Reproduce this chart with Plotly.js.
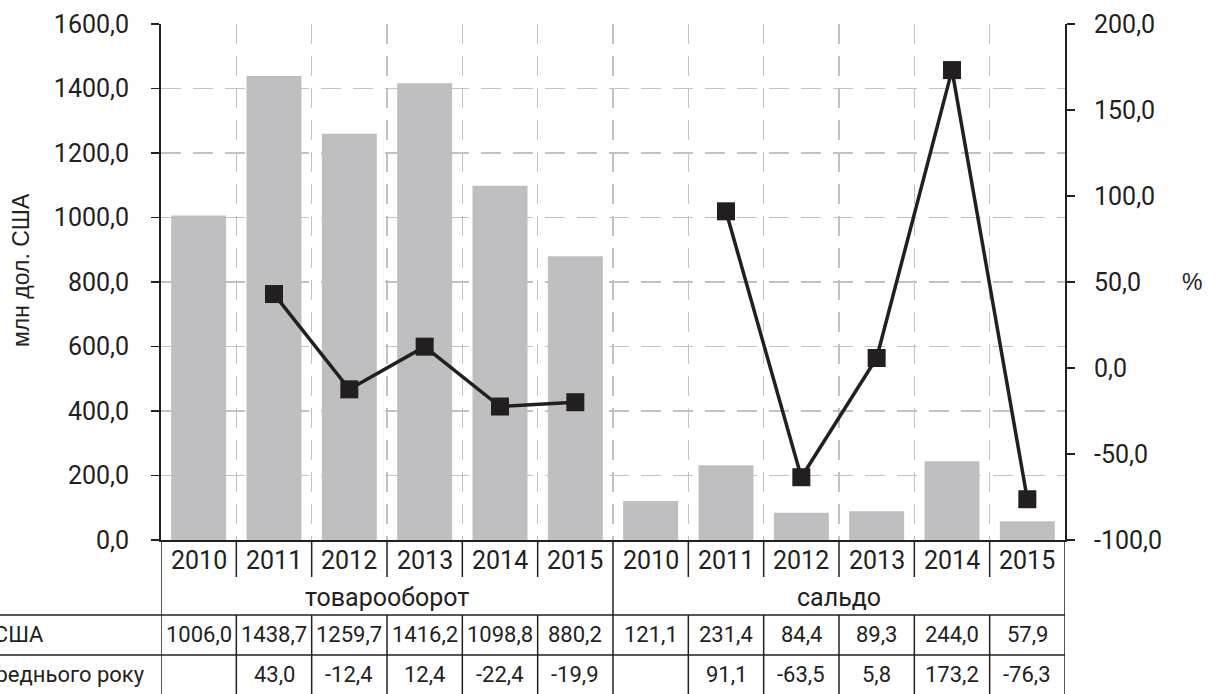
<!DOCTYPE html>
<html>
<head>
<meta charset="utf-8">
<script src="https://cdn.plot.ly/plotly-3.0.1.min.js"></script>
<style>
  html, body { margin: 0; padding: 0; background: #ffffff; }
  #chart { width: 1217px; height: 694px; }
</style>
</head>
<body>
<div id="chart"></div>
<script>
// ---- data ----
const groups = ['товарооборот', 'сальдо'];
const years = ['2010', '2011', '2012', '2013', '2014', '2015'];
const valuesMln = [1006.0, 1438.7, 1259.7, 1416.2, 1098.8, 880.2, 121.1, 231.4, 84.4, 89.3, 244.0, 57.9];
const pctChange = [null, 43.0, -12.4, 12.4, -22.4, -19.9, null, 91.1, -63.5, 5.8, 173.2, -76.3];
const rowLabels = ['млн дол. США', '% до попереднього року'];
const yTitle = 'млн дол. США';
const y2Title = '%';
const y2TickVals = [-100, -50, 0, 50, 100, 150, 200];
const y2TickText = ['-100,0', '-50,0', '0,0', '50,0', '100,0', '150,0', '200,0'];

// ---- layout constants ----
const W = 1217, H = 694;
const M = { l: 161, r: 152, t: 24, b: 154 };
const plotH = H - M.t - M.b;
const plotW = W - M.l - M.r;
const baseY = M.t + plotH;
const py = p => (baseY - p) / plotH;        // pixel row -> paper y
const px = p => (p - M.l) / plotW;          // pixel col -> paper x

const dark = '#231f20';
const keys = [];
const yearOf = [];
groups.forEach(g => years.forEach(y => { keys.push(g + ' ' + y); yearOf.push(y); }));
const fmt = v => (v === null ? '' : v.toFixed(1).replace('.', ','));

const bars = {
  type: 'bar', x: keys, y: valuesMln, yaxis: 'y',
  marker: { color: '#bfbfc1' }, hoverinfo: 'y', showlegend: false
};
const lines = {
  type: 'scatter', mode: 'lines+markers', x: keys, y: pctChange, yaxis: 'y2',
  connectgaps: false,
  line: { color: dark, width: 3.5 },
  marker: { symbol: 'square', size: 18, color: dark },
  showlegend: false
};

// ---- table (below the plot) ----
const shapes = [];
const annotations = [];
const lineStyle = { color: dark, width: 1.5 };
const nCat = keys.length;
const perGroup = years.length;
const rowYearBottom = 577, rowTop3 = 615, rowTop4 = 655, tableBottom = 710;

for (let i = 0; i <= nCat; i++) {
  const b = i - 0.5;
  const isGroupEdge = (i % perGroup === 0);
  if (isGroupEdge) {
    shapes.push({ type: 'line', xref: 'x', yref: 'paper', x0: b, x1: b, y0: py(baseY), y1: py(tableBottom), line: lineStyle });
  } else {
    shapes.push({ type: 'line', xref: 'x', yref: 'paper', x0: b, x1: b, y0: py(baseY), y1: py(rowYearBottom), line: lineStyle });
    shapes.push({ type: 'line', xref: 'x', yref: 'paper', x0: b, x1: b, y0: py(rowTop3), y1: py(tableBottom), line: lineStyle });
  }
}
[rowTop3, rowTop4].forEach(r => {
  shapes.push({ type: 'line', xref: 'paper', yref: 'paper', x0: -0.3, x1: 1, y0: py(r), y1: py(r), line: lineStyle });
});

keys.forEach((k, i) => {
  annotations.push({ xref: 'x', yref: 'paper', x: k, y: py(560), text: yearOf[i], showarrow: false,
    xanchor: 'center', yanchor: 'middle', font: { size: 25, color: dark, family: 'Roboto' } });
  annotations.push({ xref: 'x', yref: 'paper', x: k, y: py(635), text: fmt(valuesMln[i]), showarrow: false,
    xanchor: 'center', yanchor: 'middle', font: { size: 22, color: dark, family: 'Roboto' } });
  annotations.push({ xref: 'x', yref: 'paper', x: k, y: py(674), text: fmt(pctChange[i]), showarrow: false,
    xanchor: 'center', yanchor: 'middle', font: { size: 22, color: dark, family: 'Roboto' } });
});
groups.forEach((g, gi) => {
  annotations.push({ xref: 'x', yref: 'paper', x: gi * perGroup + (perGroup - 1) / 2, y: py(597), text: g, showarrow: false,
    xanchor: 'center', yanchor: 'middle', font: { size: 25, color: dark, family: 'Roboto' } });
});
annotations.push({ xref: 'paper', yref: 'paper', x: px(46), y: py(635), text: rowLabels[0], showarrow: false,
  xanchor: 'right', yanchor: 'middle', font: { size: 22, color: dark, family: 'Roboto' } });
annotations.push({ xref: 'paper', yref: 'paper', x: px(147), y: py(674), text: rowLabels[1], showarrow: false,
  xanchor: 'right', yanchor: 'middle', font: { size: 22, color: dark, family: 'Roboto' } });

// axis titles
annotations.push({ xref: 'paper', yref: 'paper', x: px(21), y: py(270), text: yTitle, showarrow: false, textangle: -90,
  xanchor: 'center', yanchor: 'middle', font: { size: 23, color: dark, family: 'Liberation Sans' } });
annotations.push({ xref: 'paper', yref: 'paper', x: px(1192), y: py(282), text: y2Title, showarrow: false,
  xanchor: 'center', yanchor: 'middle', font: { size: 23, color: dark, family: 'Liberation Sans' } });

const gridDash = '20px,12px';
const gridColor = '#c2c2c2';
const layout = {
  width: W, height: H,
  margin: M,
  paper_bgcolor: '#ffffff', plot_bgcolor: '#ffffff',
  separators: ', ',
  font: { family: 'Roboto', color: dark, size: 25 },
  bargap: 0.27,
  showlegend: false,
  xaxis: {
    type: 'category', categoryorder: 'array', categoryarray: keys,
    showticklabels: false, ticks: '', tickson: 'boundaries',
    showgrid: true, gridcolor: gridColor, gridwidth: 1.5, griddash: gridDash,
    showline: true, linecolor: dark, linewidth: 2, zeroline: false,
    range: [-0.5, nCat - 0.5], fixedrange: true
  },
  yaxis: {
    range: [0, 1600], dtick: 200, tick0: 0, tickformat: '.1f',
    showgrid: true, gridcolor: gridColor, gridwidth: 1.5, griddash: gridDash,
    zeroline: false, showline: true, linecolor: dark, linewidth: 2,
    ticks: 'outside', ticklen: 8, tickwidth: 1.5, tickcolor: dark,
    ticklabelstandoff: 17,
    tickfont: { size: 25, color: dark, family: 'Roboto' }
  },
  yaxis2: {
    overlaying: 'y', side: 'right', anchor: 'x',
    range: [-100, 200], tickmode: 'array', tickvals: y2TickVals, ticktext: y2TickText,
    showgrid: false, zeroline: false, showline: true, linecolor: dark, linewidth: 2,
    ticks: 'outside', ticklen: 8, tickwidth: 1.5, tickcolor: dark,
    ticklabelstandoff: 14,
    tickfont: { size: 25, color: dark, family: 'Roboto' }
  },
  shapes: shapes,
  annotations: annotations
};

Plotly.newPlot('chart', [bars, lines], layout, { displayModeBar: false, staticPlot: true });
</script>
</body>
</html>
